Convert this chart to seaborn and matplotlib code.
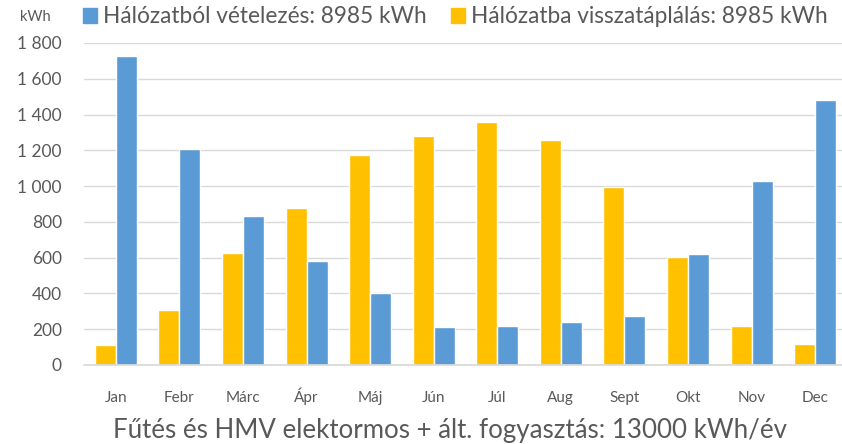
import matplotlib
matplotlib.use("Agg")
import matplotlib.pyplot as plt
import matplotlib.ticker as mticker
from matplotlib.patches import Patch
import pandas as pd
import seaborn as sns

months = ["Jan", "Febr", "Márc", "Ápr", "Máj", "Jún", "Júl", "Aug", "Sept", "Okt", "Nov", "Dec"]
# Hálózatból vételezés (grid import), kWh
import_kwh = [1730, 1210, 830, 580, 400, 210, 220, 240, 275, 620, 1030, 1480]
# Hálózatba visszatáplálás (grid export), kWh
export_kwh = [110, 310, 625, 880, 1175, 1280, 1360, 1260, 995, 605, 220, 120]

lbl_import = "Hálózatból vételezés: 8985 kWh"
lbl_export = "Hálózatba visszatáplálás: 8985 kWh"
xlabel = "Fűtés és HMV elektormos + ált. fogyasztás: 13000 kWh/év"

BLUE = "#5B9BD5"
YELLOW = "#FFC000"
GREY = "#595959"

df = pd.concat([
    pd.DataFrame({"month": months, "kwh": export_kwh, "series": lbl_export}),
    pd.DataFrame({"month": months, "kwh": import_kwh, "series": lbl_import}),
])

sns.set_theme(style="white")
plt.rcParams["font.family"] = ["Lato", "DejaVu Sans"]

fig = plt.figure(figsize=(8.42, 4.44), dpi=100)
# right edge of the plot runs slightly past the image, as in the cropped original
ax = fig.add_axes([0.0998, 0.178, 0.906, 0.7252])

sns.barplot(data=df, x="month", y="kwh", hue="series", order=months,
            hue_order=[lbl_export, lbl_import], palette=[YELLOW, BLUE],
            width=0.66, gap=0, saturation=1, ax=ax, legend=False)

ax.set_ylim(0, 1800)
ax.set_xlim(-0.5, len(months) - 0.5)
ax.yaxis.set_major_locator(mticker.MultipleLocator(200))
ax.yaxis.set_major_formatter(mticker.FuncFormatter(lambda v, _: f"{int(v):,}".replace(",", " ")))
ax.grid(axis="y", color="#D9D9D9", lw=1)
ax.set_axisbelow(True)
for s in ["top", "right", "left"]:
    ax.spines[s].set_visible(False)
ax.spines["bottom"].set_color("#D9D9D9")
ax.tick_params(axis="both", length=0, colors=GREY)
ax.tick_params(axis="y", pad=16, labelsize=12.5)
ax.tick_params(axis="x", pad=27, labelsize=11)
# baseline alignment so the accented "Ápr" sits on the same line as the others
for t in ax.get_xticklabels():
    t.set_verticalalignment("baseline")
ax.set_ylabel("")
ax.set_xlabel(xlabel, fontsize=18.6, color=GREY, labelpad=9)
ax.xaxis.label.set_x((450 - 84) / 763)

fig.text(0.024, 0.962, "kWh", fontsize=10.5, color=GREY, va="center")
handles = [Patch(color=BLUE, label=lbl_import), Patch(color=YELLOW, label=lbl_export)]
fig.legend(handles=handles, loc="center left", bbox_to_anchor=(0.0986, 0.962), ncol=2,
           frameon=False, fontsize=16.3, labelcolor=GREY, handlelength=0.62, handleheight=0.62,
           handletextpad=0.27, columnspacing=1.05, borderaxespad=0, borderpad=0)

fig.savefig("out.png", dpi=100)
